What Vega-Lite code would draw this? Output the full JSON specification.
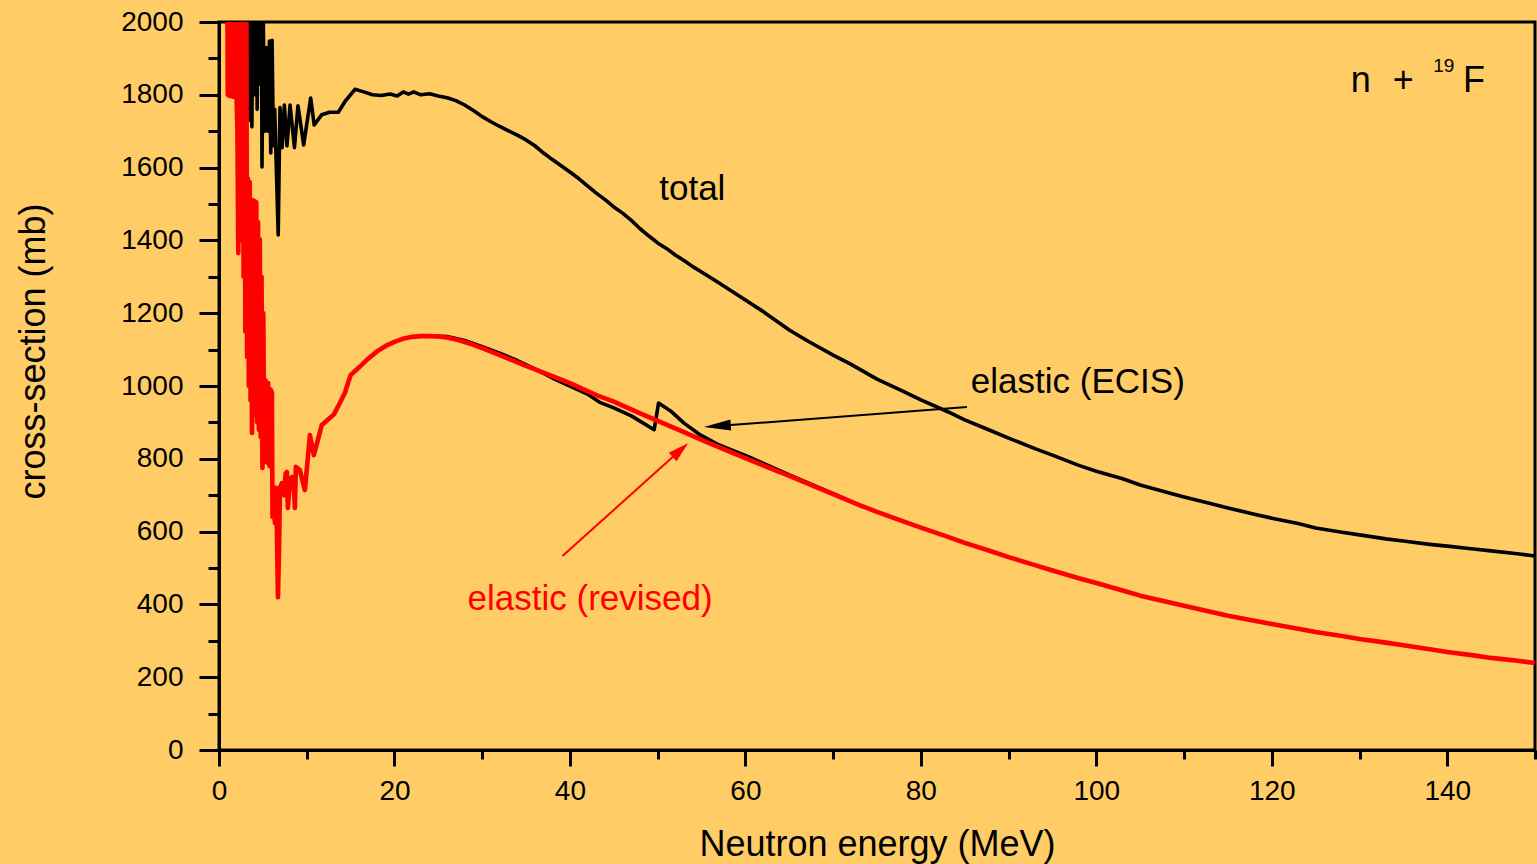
{
  "$schema": "https://vega.github.io/schema/vega-lite/v6.json",
  "width": 1316,
  "height": 728,
  "autosize": "none",
  "padding": {"left": 219, "top": 22, "right": 2, "bottom": 114},
  "background": "#FFCC66",
  "config": {
    "view": {"stroke": "black", "strokeWidth": 3},
    "font": "Liberation Sans",
    "axis": {
      "grid": false,
      "domainColor": "black",
      "domainWidth": 3,
      "tickColor": "black",
      "tickWidth": 3,
      "labelColor": "black",
      "labelFont": "Liberation Sans",
      "labelFontSize": 28,
      "labelFlush": false,
      "labelOverlap": false,
      "titleColor": "black",
      "titleFont": "Liberation Sans",
      "titleFontWeight": "normal",
      "titleFontSize": 36
    }
  },
  "datasets": {
    "total": [
      {"energy": 3.0, "xs": 2400}, {"energy": 3.1, "xs": 1720}, {"energy": 3.2, "xs": 2400}, {"energy": 3.3, "xs": 1750},
      {"energy": 3.4, "xs": 2400}, {"energy": 3.5, "xs": 1730}, {"energy": 3.6, "xs": 2400}, {"energy": 3.75, "xs": 1712},
      {"energy": 3.9, "xs": 2300}, {"energy": 4.05, "xs": 1800}, {"energy": 4.2, "xs": 2400}, {"energy": 4.35, "xs": 1760},
      {"energy": 4.5, "xs": 2200}, {"energy": 4.65, "xs": 1830}, {"energy": 4.8, "xs": 2300}, {"energy": 4.9, "xs": 1602},
      {"energy": 5.05, "xs": 2000}, {"energy": 5.2, "xs": 1700}, {"energy": 5.4, "xs": 1930}, {"energy": 5.55, "xs": 1700},
      {"energy": 5.75, "xs": 1948}, {"energy": 5.9, "xs": 1640}, {"energy": 6.05, "xs": 1950}, {"energy": 6.2, "xs": 1660},
      {"energy": 6.35, "xs": 1760}, {"energy": 6.55, "xs": 1585}, {"energy": 6.75, "xs": 1415}, {"energy": 6.95, "xs": 1765},
      {"energy": 7.2, "xs": 1655}, {"energy": 7.45, "xs": 1772}, {"energy": 7.75, "xs": 1660}, {"energy": 8.1, "xs": 1772},
      {"energy": 8.6, "xs": 1655}, {"energy": 9.0, "xs": 1770}, {"energy": 9.65, "xs": 1662}, {"energy": 10.45, "xs": 1791},
      {"energy": 10.85, "xs": 1717}, {"energy": 11.7, "xs": 1745}, {"energy": 12.6, "xs": 1752}, {"energy": 13.6, "xs": 1752},
      {"energy": 14.4, "xs": 1783}, {"energy": 15.5, "xs": 1815},
      {"energy": 16.5, "xs": 1808}, {"energy": 17.5, "xs": 1800}, {"energy": 18.5, "xs": 1798}, {"energy": 19.5, "xs": 1802},
      {"energy": 20.3, "xs": 1797}, {"energy": 21, "xs": 1808}, {"energy": 21.6, "xs": 1802}, {"energy": 22.2, "xs": 1808},
      {"energy": 23, "xs": 1800}, {"energy": 24, "xs": 1803}, {"energy": 25, "xs": 1797}, {"energy": 26, "xs": 1792},
      {"energy": 27, "xs": 1784}, {"energy": 28, "xs": 1772}, {"energy": 29, "xs": 1757}, {"energy": 30, "xs": 1740},
      {"energy": 31, "xs": 1726}, {"energy": 32, "xs": 1713}, {"energy": 33, "xs": 1701}, {"energy": 34, "xs": 1689},
      {"energy": 35, "xs": 1676}, {"energy": 36, "xs": 1660}, {"energy": 37, "xs": 1640}, {"energy": 38, "xs": 1622},
      {"energy": 39, "xs": 1605}, {"energy": 40, "xs": 1588}, {"energy": 41, "xs": 1570}, {"energy": 42, "xs": 1550},
      {"energy": 43, "xs": 1530}, {"energy": 44, "xs": 1512}, {"energy": 45, "xs": 1492}, {"energy": 46, "xs": 1475},
      {"energy": 47, "xs": 1455}, {"energy": 48, "xs": 1432}, {"energy": 49, "xs": 1412}, {"energy": 50, "xs": 1393},
      {"energy": 51, "xs": 1378}, {"energy": 52, "xs": 1360}, {"energy": 53, "xs": 1345}, {"energy": 54, "xs": 1328},
      {"energy": 55, "xs": 1313}, {"energy": 57, "xs": 1283}, {"energy": 60, "xs": 1236}, {"energy": 62, "xs": 1205},
      {"energy": 65, "xs": 1154}, {"energy": 67, "xs": 1125}, {"energy": 70, "xs": 1085}, {"energy": 72, "xs": 1060},
      {"energy": 75, "xs": 1019}, {"energy": 78, "xs": 985}, {"energy": 80, "xs": 962}, {"energy": 83, "xs": 930},
      {"energy": 85, "xs": 907}, {"energy": 88, "xs": 877}, {"energy": 90, "xs": 857}, {"energy": 93, "xs": 828},
      {"energy": 95, "xs": 810}, {"energy": 98, "xs": 782}, {"energy": 100, "xs": 766}, {"energy": 103, "xs": 745},
      {"energy": 105, "xs": 728}, {"energy": 108, "xs": 708}, {"energy": 110, "xs": 695}, {"energy": 113, "xs": 677},
      {"energy": 115, "xs": 665}, {"energy": 118, "xs": 648}, {"energy": 120, "xs": 637}, {"energy": 123, "xs": 622},
      {"energy": 125, "xs": 610}, {"energy": 128, "xs": 598}, {"energy": 130, "xs": 591}, {"energy": 133, "xs": 580},
      {"energy": 135, "xs": 574}, {"energy": 138, "xs": 565}, {"energy": 140, "xs": 560}, {"energy": 143, "xs": 552},
      {"energy": 145, "xs": 547}, {"energy": 148, "xs": 539}, {"energy": 150, "xs": 533}
    ],
    "ecis": [
      {"energy": 24, "xs": 1137}, {"energy": 26, "xs": 1136}, {"energy": 28, "xs": 1125}, {"energy": 30, "xs": 1108},
      {"energy": 32, "xs": 1090}, {"energy": 34, "xs": 1070}, {"energy": 36, "xs": 1047}, {"energy": 38, "xs": 1022},
      {"energy": 40, "xs": 1000}, {"energy": 42, "xs": 978}, {"energy": 43.4, "xs": 955}, {"energy": 45, "xs": 940},
      {"energy": 47, "xs": 918}, {"energy": 49.6, "xs": 880}, {"energy": 50.1, "xs": 953}, {"energy": 51.6, "xs": 929},
      {"energy": 53, "xs": 898}, {"energy": 54.7, "xs": 868}, {"energy": 57, "xs": 838}, {"energy": 60.4, "xs": 805},
      {"energy": 63, "xs": 777}, {"energy": 65, "xs": 756}, {"energy": 68, "xs": 725}, {"energy": 70, "xs": 704},
      {"energy": 72, "xs": 683}
    ],
    "revised": [
      {"energy": 0.9, "xs": 2400}, {"energy": 1.0, "xs": 1800}, {"energy": 1.1, "xs": 2400}, {"energy": 1.2, "xs": 1797},
      {"energy": 1.3, "xs": 2400}, {"energy": 1.4, "xs": 1797}, {"energy": 1.5, "xs": 2400}, {"energy": 1.6, "xs": 1795},
      {"energy": 1.7, "xs": 2400}, {"energy": 1.8, "xs": 1900}, {"energy": 1.9, "xs": 2400}, {"energy": 2.0, "xs": 1800},
      {"energy": 2.1, "xs": 1700}, {"energy": 2.2, "xs": 1365}, {"energy": 2.3, "xs": 2400}, {"energy": 2.4, "xs": 1500},
      {"energy": 2.5, "xs": 2400}, {"energy": 2.6, "xs": 1400}, {"energy": 2.7, "xs": 2400}, {"energy": 2.8, "xs": 1300},
      {"energy": 2.9, "xs": 2400}, {"energy": 3.0, "xs": 1150}, {"energy": 3.1, "xs": 2300}, {"energy": 3.2, "xs": 1080},
      {"energy": 3.3, "xs": 1570}, {"energy": 3.4, "xs": 1000}, {"energy": 3.5, "xs": 1560}, {"energy": 3.6, "xs": 960},
      {"energy": 3.68, "xs": 1500}, {"energy": 3.76, "xs": 871}, {"energy": 3.85, "xs": 1510}, {"energy": 3.95, "xs": 950},
      {"energy": 4.05, "xs": 1508}, {"energy": 4.15, "xs": 920}, {"energy": 4.25, "xs": 1505}, {"energy": 4.35, "xs": 900},
      {"energy": 4.45, "xs": 1450}, {"energy": 4.55, "xs": 880}, {"energy": 4.65, "xs": 1403}, {"energy": 4.75, "xs": 860},
      {"energy": 4.85, "xs": 1300}, {"energy": 4.95, "xs": 775}, {"energy": 5.05, "xs": 1200}, {"energy": 5.15, "xs": 800},
      {"energy": 5.3, "xs": 1016}, {"energy": 5.45, "xs": 790}, {"energy": 5.6, "xs": 1008}, {"energy": 5.75, "xs": 780},
      {"energy": 5.9, "xs": 990}, {"energy": 6.03, "xs": 981}, {"energy": 6.1, "xs": 640}, {"energy": 6.25, "xs": 700},
      {"energy": 6.37, "xs": 624}, {"energy": 6.5, "xs": 720}, {"energy": 6.6, "xs": 600}, {"energy": 6.72, "xs": 420},
      {"energy": 6.85, "xs": 560}, {"energy": 6.95, "xs": 720}, {"energy": 7.17, "xs": 733}, {"energy": 7.4, "xs": 700},
      {"energy": 7.6, "xs": 760}, {"energy": 7.74, "xs": 764}, {"energy": 7.85, "xs": 665}, {"energy": 8.05, "xs": 730},
      {"energy": 8.31, "xs": 750}, {"energy": 8.5, "xs": 740}, {"energy": 8.65, "xs": 665}, {"energy": 8.76, "xs": 778},
      {"energy": 9.22, "xs": 769}, {"energy": 9.79, "xs": 714}, {"energy": 10.36, "xs": 865}, {"energy": 10.81, "xs": 810},
      {"energy": 11.72, "xs": 893}, {"energy": 12.4, "xs": 907}, {"energy": 13.1, "xs": 922}, {"energy": 13.7, "xs": 950},
      {"energy": 14.34, "xs": 981}, {"energy": 15.0, "xs": 1030}, {"energy": 16, "xs": 1052}, {"energy": 17, "xs": 1075},
      {"energy": 18, "xs": 1095}, {"energy": 19, "xs": 1110}, {"energy": 20, "xs": 1121}, {"energy": 21, "xs": 1130},
      {"energy": 22, "xs": 1135}, {"energy": 23, "xs": 1137}, {"energy": 24, "xs": 1137}, {"energy": 25, "xs": 1136},
      {"energy": 26, "xs": 1133}, {"energy": 27, "xs": 1128}, {"energy": 28, "xs": 1121}, {"energy": 29, "xs": 1113},
      {"energy": 30, "xs": 1104}, {"energy": 32, "xs": 1085}, {"energy": 35, "xs": 1055}, {"energy": 38, "xs": 1027},
      {"energy": 40, "xs": 1008}, {"energy": 43, "xs": 975}, {"energy": 45, "xs": 957}, {"energy": 48, "xs": 925},
      {"energy": 50, "xs": 904}, {"energy": 53, "xs": 873}, {"energy": 55, "xs": 852}, {"energy": 58, "xs": 822},
      {"energy": 60, "xs": 802}, {"energy": 63, "xs": 772}, {"energy": 65, "xs": 753}, {"energy": 68, "xs": 723},
      {"energy": 70, "xs": 703}, {"energy": 73, "xs": 673}, {"energy": 75, "xs": 654}, {"energy": 78, "xs": 628},
      {"energy": 80, "xs": 611}, {"energy": 83, "xs": 586}, {"energy": 85, "xs": 569}, {"energy": 88, "xs": 546},
      {"energy": 90, "xs": 530}, {"energy": 93, "xs": 508}, {"energy": 95, "xs": 493}, {"energy": 98, "xs": 472},
      {"energy": 100, "xs": 459}, {"energy": 103, "xs": 438}, {"energy": 105, "xs": 424}, {"energy": 108, "xs": 407},
      {"energy": 110, "xs": 396}, {"energy": 113, "xs": 380}, {"energy": 115, "xs": 369}, {"energy": 118, "xs": 355},
      {"energy": 120, "xs": 346}, {"energy": 123, "xs": 333}, {"energy": 125, "xs": 324}, {"energy": 128, "xs": 313},
      {"energy": 130, "xs": 305}, {"energy": 133, "xs": 295}, {"energy": 135, "xs": 288}, {"energy": 138, "xs": 277},
      {"energy": 140, "xs": 269}, {"energy": 143, "xs": 260}, {"energy": 145, "xs": 253}, {"energy": 148, "xs": 245},
      {"energy": 150, "xs": 239}
    ],
    "blackArrow": [{"energy": 85.25, "xs": 942, "energy2": 56.8, "xs2": 890}],
    "blackHead": [{"energy": 56.8, "xs": 890}],
    "redArrow": [{"energy": 39.15, "xs": 533, "energy2": 52.6, "xs2": 824}],
    "redHead": [{"energy": 52.6, "xs": 824}]
  },
  "encoding": {
    "x": {
      "field": "energy",
      "type": "quantitative",
      "scale": {"domain": [0, 150], "nice": false, "zero": false},
      "axis": {
        "title": "Neutron energy (MeV)",
        "format": "d",
        "values": [0, 10, 20, 30, 40, 50, 60, 70, 80, 90, 100, 110, 120, 130, 140, 150],
        "tickSize": {"condition": {"test": "datum.value % 20 === 0", "value": 16}, "value": 9},
        "labelExpr": "datum.value % 20 === 0 && datum.value < 150 ? datum.label : ''",
        "labelPadding": 11,
        "titlePadding": 22
      }
    },
    "y": {
      "field": "xs",
      "type": "quantitative",
      "scale": {"domain": [0, 2000], "nice": false},
      "axis": {
        "title": "cross-section (mb)",
        "format": "d",
        "values": [0, 100, 200, 300, 400, 500, 600, 700, 800, 900, 1000, 1100, 1200, 1300, 1400, 1500, 1600, 1700, 1800, 1900, 2000],
        "tickSize": {"condition": {"test": "datum.value % 200 === 0", "value": 20}, "value": 11},
        "labelExpr": "datum.value % 200 === 0 ? datum.label : ''",
        "labelPadding": 16,
        "titlePadding": 68,
        "titleY": 329
      }
    }
  },
  "layer": [
    {
      "data": {"name": "total"},
      "mark": {"type": "line", "color": "black", "strokeWidth": 3.6, "strokeJoin": "round", "clip": true},
      "encoding": {}
    },
    {
      "data": {"name": "ecis"},
      "mark": {"type": "line", "color": "black", "strokeWidth": 3.6, "strokeJoin": "round", "clip": true},
      "encoding": {}
    },
    {
      "data": {"name": "revised"},
      "mark": {"type": "line", "color": "#FF0000", "strokeWidth": 4.6, "strokeJoin": "round", "clip": true},
      "encoding": {}
    },
    {
      "data": {"name": "blackArrow"},
      "mark": {"type": "rule", "color": "black", "strokeWidth": 2},
      "encoding": {"x2": {"field": "energy2"}, "y2": {"field": "xs2"}}
    },
    {
      "data": {"name": "blackHead"},
      "mark": {"type": "point", "shape": "M0,-1L0.4,1L-0.4,1Z", "filled": true, "color": "black", "opacity": 1, "size": 729, "angle": 265.6},
      "encoding": {}
    },
    {
      "data": {"name": "redArrow"},
      "mark": {"type": "rule", "color": "#FF0000", "strokeWidth": 2},
      "encoding": {"x2": {"field": "energy2"}, "y2": {"field": "xs2"}}
    },
    {
      "data": {"name": "redHead"},
      "mark": {"type": "point", "shape": "M0,-1L0.55,1L-0.55,1Z", "filled": true, "color": "#FF0000", "opacity": 1, "size": 441, "angle": 48.1},
      "encoding": {}
    },
    {
      "data": {"values": [{"energy": 53.95, "xs": 1511, "label": "total"}]},
      "mark": {"type": "text", "align": "center", "baseline": "alphabetic", "fontSize": 35, "color": "black", "font": "Liberation Sans"},
      "encoding": {"text": {"field": "label"}}
    },
    {
      "data": {"values": [{"energy": 85.7, "xs": 981, "label": "elastic (ECIS)"}]},
      "mark": {"type": "text", "align": "left", "baseline": "alphabetic", "fontSize": 35, "color": "black", "font": "Liberation Sans"},
      "encoding": {"text": {"field": "label"}}
    },
    {
      "data": {"values": [{"energy": 42.3, "xs": 385, "label": "elastic (revised)"}]},
      "mark": {"type": "text", "align": "center", "baseline": "alphabetic", "fontSize": 35, "color": "#FF0000", "font": "Liberation Sans"},
      "encoding": {"text": {"field": "label"}}
    },
    {
      "data": {"values": [{"energy": 129.0, "xs": 1808, "label": "n"}, {"energy": 133.8, "xs": 1808, "label": "+"}, {"energy": 141.8, "xs": 1808, "label": "F"}]},
      "mark": {"type": "text", "align": "left", "baseline": "alphabetic", "fontSize": 36, "color": "black", "font": "Liberation Sans"},
      "encoding": {"text": {"field": "label"}}
    },
    {
      "data": {"values": [{"energy": 138.4, "xs": 1863, "label": "19"}]},
      "mark": {"type": "text", "align": "left", "baseline": "alphabetic", "fontSize": 19, "color": "black", "font": "Liberation Sans"},
      "encoding": {"text": {"field": "label"}}
    }
  ]
}
